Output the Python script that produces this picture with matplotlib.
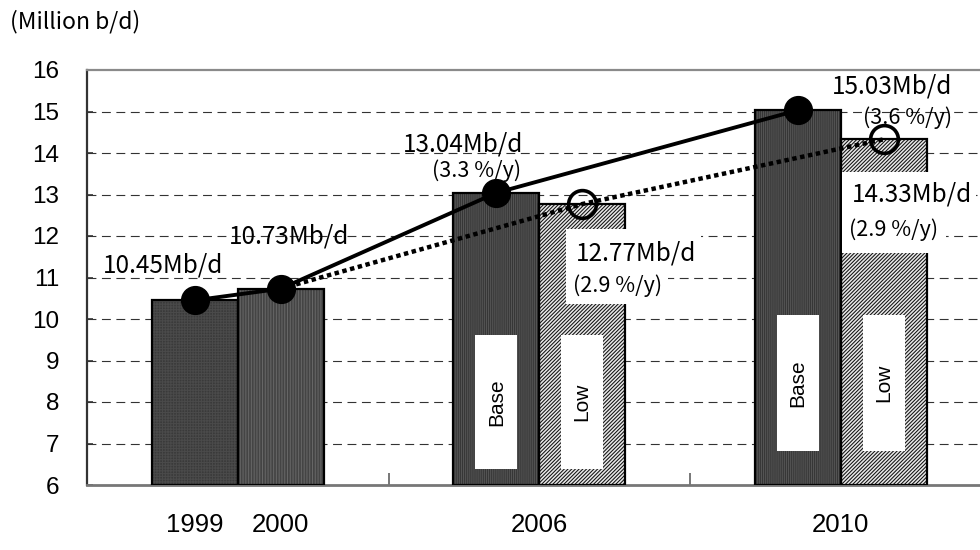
import matplotlib
matplotlib.use("Agg")
import matplotlib.pyplot as plt
from matplotlib.patches import Rectangle
from matplotlib.ticker import FixedLocator, NullFormatter

# ---- data -------------------------------------------------------------
hist_years = ["1999", "2000"]
hist_values = [10.45, 10.73]

proj_years = ["2006", "2010"]
base_values = [13.04, 15.03]
low_values = [12.77, 14.33]
base_growth = ["(3.3 %/y)", "(3.6 %/y)"]
low_growth = ["(2.9 %/y)", "(2.9 %/y)"]

y_ticks = list(range(6, 17))
unit_label = "(Million b/d)"

# ---- style ------------------------------------------------------------
plt.rcParams["hatch.linewidth"] = 0.75
JP = ["Noto Sans CJK JP", "DejaVu Sans"]
SANS = ["Liberation Sans", "DejaVu Sans"]

fig = plt.figure(figsize=(9.8, 5.5), dpi=100)
ax = fig.add_axes([87 / 980, 65 / 550, 904.5 / 980, 415 / 550])

W = 0.285          # bar width
OFF = W / 2        # offset of each bar from its group centre

hist_x = [-OFF, OFF]
base_x = [1 - OFF, 2 - OFF]
low_x = [1 + OFF, 2 + OFF]


def textured_bar(x, h, face, hatch, hatch_color):
    ax.bar(x, h - 6, bottom=6, width=W, color=face, hatch=hatch,
           edgecolor=hatch_color, linewidth=0, zorder=2)
    ax.bar(x, h - 6, bottom=6, width=W, fill=False,
           edgecolor="black", linewidth=1.6, zorder=3)


# historical bars
textured_bar(hist_x[0], hist_values[0], "#3a3a3a", "++++++", "#4a4a4a")
textured_bar(hist_x[1], hist_values[1], "#444444", "||||||", "#666666")
# projection bars
for xb, vb, xl, vl in zip(base_x, base_values, low_x, low_values):
    textured_bar(xb, vb, "#363636", "||||||||", "#555555")
    textured_bar(xl, vl, "#e8e8e8", "/" * 9, "#111111")

# grid
for v in y_ticks[1:-1]:
    ax.axhline(v, color="#333333", lw=0.8, ls=(0, (8, 5)), zorder=1)

# white boxes holding "Base" / "Low" inside the projection bars
BW = 0.139
box_spans = [(6.39, 9.61), (6.82, 10.10)]
for (lo, hi), xb, xl in zip(box_spans, base_x, low_x):
    for xc, name in ((xb, "Base"), (xl, "Low")):
        ax.add_patch(Rectangle((xc - BW / 2, lo), BW, hi - lo,
                               facecolor="white", edgecolor="none", zorder=4))
        ax.text(xc, (lo + hi) / 2, name, rotation=90, ha="center",
                va="center", fontsize=15, family=SANS, zorder=5)

# white boxes behind the low-case value labels
label_boxes = [
    [(1.088, 11.13, 0.448, 1.04), (1.088, 10.36, 0.338, 0.77)],
    [(2.003, 12.55, 0.445, 0.99), (2.003, 11.59, 0.345, 0.96)],
]
for boxes in label_boxes:
    for bx, by, bw, bh in boxes:
        ax.add_patch(Rectangle((bx, by), bw, bh, facecolor="white",
                               edgecolor="none", zorder=4))

# base-case line (solid, filled markers)
base_line_x = hist_x + base_x
base_line_y = hist_values + base_values
ax.plot(base_line_x, base_line_y, color="black", lw=2.8, zorder=6,
        solid_capstyle="butt")
ax.plot(base_line_x, base_line_y, ls="none", marker="o", ms=20,
        mfc="black", mec="black", zorder=7)

# low-case line (dotted, open markers), starting from the 2000 value
low_line_x = [hist_x[1]] + low_x
low_line_y = [hist_values[1]] + low_values
ax.plot(low_line_x, low_line_y, color="black", lw=3.2,
        ls=(0, (1.0, 0.8)), dash_capstyle="butt", zorder=6)
ax.plot(low_x, low_values, ls="none", marker="o", ms=20, mfc="none",
        mec="black", mew=2.6, zorder=7)

# value labels
fs = 17.5
fs_g = 15.5
ax.text(-0.249, 11.30, f"{hist_values[0]:.2f}Mb/d", ha="center",
        va="center", fontsize=fs, family=JP, zorder=8)
ax.text(0.169, 12.00, f"{hist_values[1]:.2f}Mb/d", ha="center",
        va="center", fontsize=fs, family=JP, zorder=8)

base_lbl_pos = [((0.746, 14.20), (0.793, 13.58)),
                ((2.169, 15.60), (2.222, 14.84))]
for (p1, p2), v, g in zip(base_lbl_pos, base_values, base_growth):
    ax.text(*p1, f"{v:.2f}Mb/d", ha="center", va="center", fontsize=fs,
            family=JP, zorder=8)
    ax.text(*p2, g, ha="center", va="center", fontsize=fs_g,
            family=JP, zorder=8)

low_lbl_pos = [((1.121, 11.59), (1.111, 10.80)),
               ((2.036, 12.99), (2.027, 12.14))]
for (p1, p2), v, g in zip(low_lbl_pos, low_values, low_growth):
    ax.text(*p1, f"{v:.2f}Mb/d", ha="left", va="center", fontsize=fs,
            family=JP, zorder=8)
    ax.text(*p2, g, ha="left", va="center", fontsize=fs_g,
            family=JP, zorder=8)

# axes
ax.set_xlim(-0.5, 2.5)
ax.set_ylim(6, 16)
ax.set_yticks(y_ticks)
ax.set_yticklabels([str(v) for v in y_ticks], family=SANS, fontsize=17.5)
ax.tick_params(axis="y", direction="in", length=4, width=1.2,
               color="#333333", pad=20)

ax.set_xticks(hist_x + [1, 2])
ax.set_xticklabels(hist_years + proj_years, family=SANS, fontsize=18.5)
ax.tick_params(axis="x", which="major", length=0, pad=20)
ax.xaxis.set_minor_locator(FixedLocator([0.5, 1.5]))
ax.xaxis.set_minor_formatter(NullFormatter())
ax.tick_params(axis="x", which="minor", direction="in", length=8.5,
               width=1.4, color="#777777")

ax.spines["right"].set_visible(False)
ax.spines["top"].set_color("#8a8a8a")
ax.spines["top"].set_linewidth(1.6)
ax.spines["left"].set_color("#333333")
ax.spines["left"].set_linewidth(1.6)
ax.spines["bottom"].set_color("#777777")
ax.spines["bottom"].set_linewidth(2.0)

fig.text(10 / 980, 1 - 22 / 550, unit_label, ha="left", va="center",
         fontsize=16.5, family=JP)

fig.savefig("out.png", dpi=100)
